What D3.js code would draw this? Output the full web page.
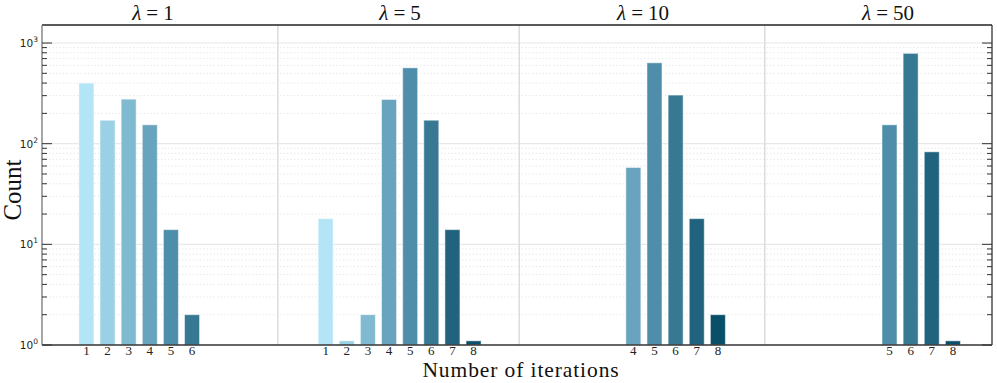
<!DOCTYPE html>
<html><head><meta charset="utf-8">
<script src="https://cdn.jsdelivr.net/npm/d3@7"></script>
<style>body{margin:0;background:#fff}svg{display:block}</style>
</head><body>
<svg id="c" width="997" height="383"></svg>
<script>
// ---- data ----
const lambdas = [1, 5, 10, 50];
const iterations1 = [1, 2, 3, 4, 5, 6];
const counts1 = [400, 171, 277, 154, 14, 2];
const iterations5 = [1, 2, 3, 4, 5, 6, 7, 8];
const counts5 = [18, 1.1, 2, 275, 567, 171, 14, 1.1];
const iterations10 = [4, 5, 6, 7, 8];
const counts10 = [58, 636, 304, 18, 2];
const iterations50 = [5, 6, 7, 8];
const counts50 = [154, 789, 83, 1.1];
const yTickExponents = [0, 1, 2, 3];
const iterColors = ["#b3e5f7", "#9bd1e5", "#80bad1", "#68a4bd", "#4f8eaa", "#377893", "#21637f", "#0a4f6a"];

// ---- layout ----
const W = 997, H = 383;
const L = 42, R = 992, T = 25, B = 345;
const groupOffset = [0, 11.32, 22.88, 34.0];
const titlePos = [4.15, 4.52, 4.46, 4.93];
const separators = [10.06, 21.48, 33.1];
const barW = 0.71;

const groups = [
  {lam: lambdas[0], it: iterations1, c: counts1},
  {lam: lambdas[1], it: iterations5, c: counts5},
  {lam: lambdas[2], it: iterations10, c: counts10},
  {lam: lambdas[3], it: iterations50, c: counts50}
];

const svg = d3.select("#c");
const x = d3.scaleLinear().domain([-1.1, 43.85]).range([L, R]);
const y = d3.scaleLog().domain([1, 1510]).range([B, T]);

// grid minor
const minor = [];
for (let e = 0; e < 4; e++) for (let m = 2; m <= 9; m++) { const v = m * Math.pow(10, e); if (v < 1510) minor.push(v); }
const major = yTickExponents.map(e => Math.pow(10, e));
svg.append("g").selectAll("line").data(minor).join("line")
  .attr("x1", L).attr("x2", R).attr("y1", d => y(d)).attr("y2", d => y(d))
  .attr("stroke", "#e2e2e2").attr("stroke-width", 0.8).attr("stroke-dasharray", "1.5,2");
svg.append("g").selectAll("line").data(major.slice(1)).join("line")
  .attr("x1", L).attr("x2", R).attr("y1", d => y(d)).attr("y2", d => y(d))
  .attr("stroke", "#e8e8e8").attr("stroke-width", 1.2);

// separators
svg.append("g").selectAll("line").data(separators).join("line")
  .attr("x1", d => x(d)).attr("x2", d => x(d)).attr("y1", T).attr("y2", B)
  .attr("stroke", "#dcdcdc").attr("stroke-width", 1.5);

// bars
groups.forEach((g, gi) => {
  const data = g.it.map((it, i) => ({it, v: g.c[i]}));
  const gg = svg.append("g");
  gg.selectAll("rect").data(data).join("rect")
    .attr("x", d => x(groupOffset[gi] + d.it - barW / 2))
    .attr("width", d => x(groupOffset[gi] + d.it + barW / 2) - x(groupOffset[gi] + d.it - barW / 2))
    .attr("y", d => y(d.v))
    .attr("height", d => B - y(d.v))
    .attr("fill", d => iterColors[d.it - 1])
    .attr("stroke", "#ffffff").attr("stroke-opacity", 0.5).attr("stroke-width", 1);
  gg.selectAll("text").data(data).join("text")
    .attr("x", d => x(groupOffset[gi] + d.it))
    .attr("y", 354.5)
    .attr("text-anchor", "middle")
    .attr("font-family", "'Liberation Serif', 'DejaVu Serif', serif")
    .attr("font-size", 13).attr("fill", "#222")
    .text(d => d.it);
  const t = svg.append("text")
    .attr("x", x(groupOffset[gi] + titlePos[gi])).attr("y", 20)
    .attr("text-anchor", "middle")
    .attr("font-family", "'Liberation Serif', 'DejaVu Serif', serif")
    .attr("font-size", 21).attr("fill", "#111");
  t.append("tspan").attr("font-style", "italic").text("λ");
  t.append("tspan").attr("dx", 5).text("=");
  t.append("tspan").attr("dx", 5).text(g.lam);
});

// spines
svg.append("line").attr("x1", L).attr("x2", R).attr("y1", T).attr("y2", T).attr("stroke", "#222").attr("stroke-width", 1.3);
svg.append("line").attr("x1", L).attr("x2", R).attr("y1", B).attr("y2", B).attr("stroke", "#333").attr("stroke-width", 1.3);
svg.append("line").attr("x1", R).attr("x2", R).attr("y1", T).attr("y2", B).attr("stroke", "#333").attr("stroke-width", 1.3);
svg.append("line").attr("x1", L).attr("x2", L).attr("y1", T).attr("y2", B).attr("stroke", "#888").attr("stroke-width", 1.5);

// y ticks left and right (inward)
const tickG = svg.append("g").attr("stroke", "#333").attr("stroke-width", 1);
tickG.selectAll(".ml").data(major).join("line").attr("x1", L).attr("x2", L + 10).attr("y1", d => y(d)).attr("y2", d => y(d));
tickG.selectAll(".nl").data(minor).join("line").attr("x1", L).attr("x2", L + 5).attr("y1", d => y(d)).attr("y2", d => y(d));
tickG.selectAll(".mr").data(major).join("line").attr("x1", R).attr("x2", R - 10).attr("y1", d => y(d)).attr("y2", d => y(d));
tickG.selectAll(".nr").data(minor).join("line").attr("x1", R).attr("x2", R - 5).attr("y1", d => y(d)).attr("y2", d => y(d));

// y tick labels
const yl = svg.append("g").selectAll("text").data(yTickExponents).join("text")
  .attr("x", 38).attr("y", d => y(Math.pow(10, d)) + 4)
  .attr("text-anchor", "end")
  .attr("font-family", "'DejaVu Sans', sans-serif").attr("font-size", 10.5).attr("fill", "#222");
yl.append("tspan").text("10");
yl.append("tspan").attr("dy", -5).attr("font-size", 7.5).text(d => d);

// axis labels
svg.append("text").attr("transform", "translate(21,190) rotate(-90)")
  .attr("text-anchor", "middle").attr("font-family", "'Liberation Serif', 'DejaVu Serif', serif")
  .attr("font-size", 25).attr("fill", "#111").text("Count");
svg.append("text").attr("x", 521).attr("y", 377)
  .attr("text-anchor", "middle").attr("font-family", "'Liberation Serif', 'DejaVu Serif', serif")
  .attr("font-size", 21.5).attr("letter-spacing", 0.9).attr("fill", "#111").text("Number of iterations");
</script>
</body></html>
